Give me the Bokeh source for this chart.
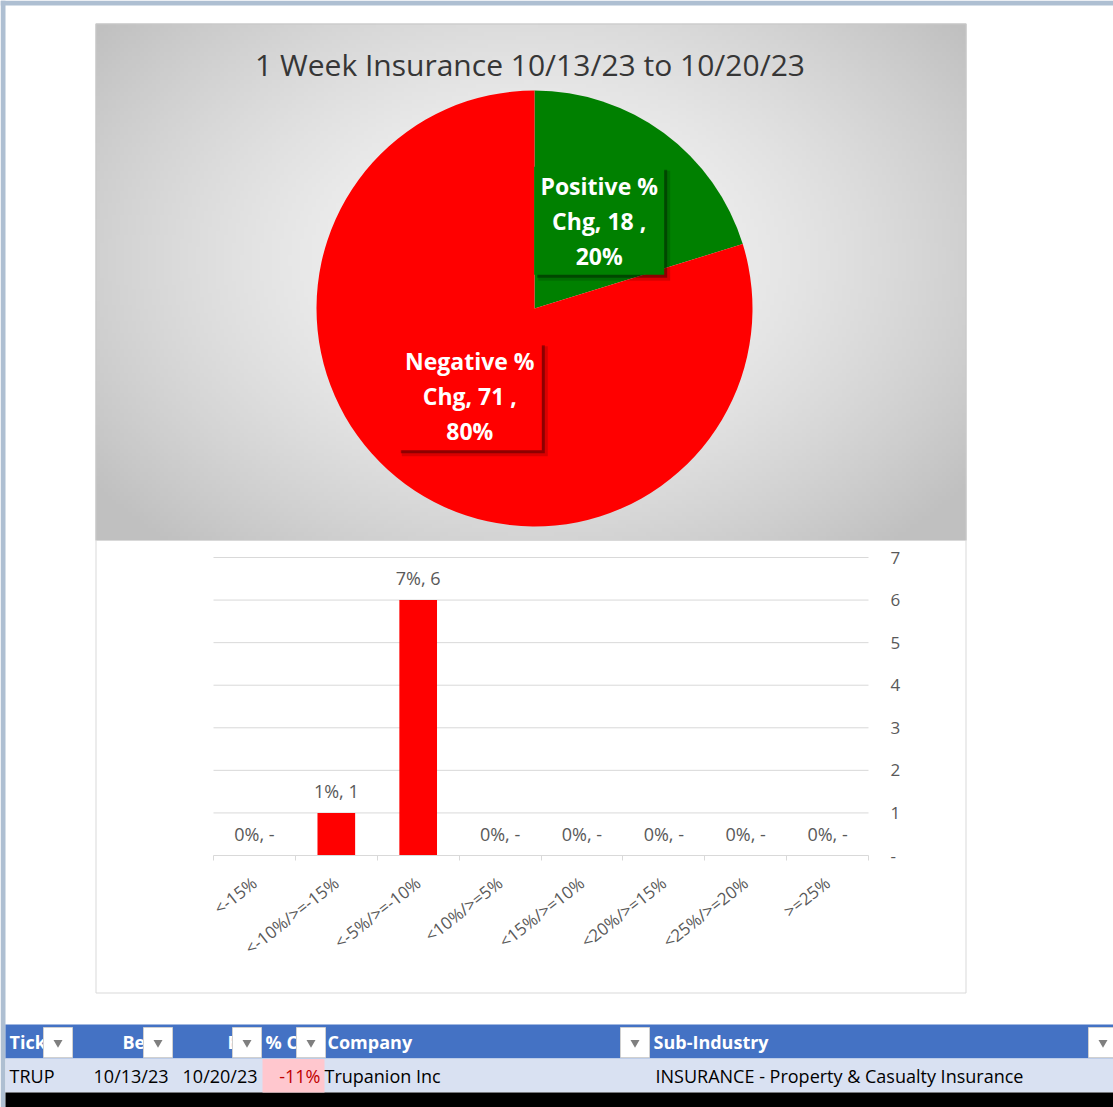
import math
import numpy as np
from bokeh.plotting import figure
from bokeh.models import Range1d, LinearAxis, FixedTicker, ColumnDataSource
from bokeh.embed import file_html
from bokeh.resources import INLINE
from bokeh.core.properties import value

# ---------------- data ----------------
title_text = "1 Week Insurance 10/13/23 to 10/20/23"
slice_names = ["Positive % Chg", "Negative % Chg"]
slice_counts = [18, 71]
slice_pcts = ["20%", "80%"]
slice_colors = ["#008000", "#FF0000"]

bar_categories = ["<-15%", "<-10%/>=-15%", "<-5%/>=-10%", "<10%/>=5%",
                  "<15%/>=10%", "<20%/>=15%", "<25%/>=20%", ">=25%"]
bar_counts = [0, 1, 6, 0, 0, 0, 0, 0]
bar_pcts = ["0%", "1%", "7%", "0%", "0%", "0%", "0%", "0%"]
y_ticks = [0, 1, 2, 3, 4, 5, 6, 7]

table_headers = ["Tick", "Be", "E", "% C", "Company", "Sub-Industry"]
table_row = ["TRUP", "10/13/23", "10/20/23", "-11%", "Trupanion Inc",
             "INSURANCE - Property & Casualty Insurance"]

# ---------------- page layout (pixels) ----------------
PW, PH = 1113, 1107
FONT = value("Open Sans")
GRAY_TXT = "#595959"

p = figure(width=PW, height=PH, title=None,
           x_range=Range1d(0, PW), y_range=Range1d(-PH, 0),
           min_border=0, min_border_left=0, min_border_right=0,
           min_border_top=0, min_border_bottom=0,
           x_axis_location=None, y_axis_location=None,
           toolbar_location=None, output_backend="svg")
p.grid.visible = False
p.outline_line_color = None
p.background_fill_color = "white"
p.border_fill_color = "white"

# window frame strips
p.quad(left=0, right=PW, top=0, bottom=-5, fill_color="#AEBFD2", line_color=None)
p.quad(left=0, right=5, top=0, bottom=-PH, fill_color="#AEBFD2", line_color=None)

# ================= PIE =================
ch_l, ch_r, ch_t, ch_b = 95, 966, 23, 540
ny, nx = 130, 218
gx = np.linspace(ch_l, ch_r, nx)
gy = np.linspace(ch_b, ch_t, ny)
X, Y = np.meshgrid(gx, gy)
d = np.sqrt(((X - 530) / 435.0) ** 2 + ((Y - 260) / 300.0) ** 2)
v = (247 - 55 * np.clip(d / 1.27, 0, 1) ** 1.5).astype(np.uint32)
img = (np.uint32(255) << 24) | (v << 16) | (v << 8) | v
p.image_rgba(image=[img.astype(np.uint32)], x=ch_l, y=-ch_b,
             dw=ch_r - ch_l, dh=ch_b - ch_t)
p.quad(left=ch_l + 0.5, right=ch_r - 0.5, top=-ch_t - 0.5, bottom=-ch_b,
       fill_color=None, line_color="#c8c8c8", line_width=1)

p.text(x=[(ch_l + ch_r) / 2 - 1], y=[-64], text=[title_text],
       text_align="center", text_baseline="middle", text_font=FONT,
       text_font_size="30px", text_color="#363636")

cx, cy, R = 534, -308, 218
total = sum(slice_counts)
cum = np.cumsum([0] + slice_counts)
starts = [math.pi / 2 - 2 * math.pi * cum[i] / total for i in range(len(slice_counts))]
ends = [math.pi / 2 - 2 * math.pi * cum[i + 1] / total for i in range(len(slice_counts))]
mids = [(s + e) / 2 for s, e in zip(starts, ends)]
pie_src = ColumnDataSource(dict(start=starts, end=ends, color=slice_colors))
p.wedge(x=cx, y=cy, radius=R, start_angle="start", end_angle="end",
        direction="clock", fill_color="color", line_color=None, source=pie_src)

lx = [cx + 0.5 * R * math.cos(m) for m in mids]
ly = [cy + 0.5 * R * math.sin(m) for m in mids]
labels = [n.replace(" Chg", "\nChg") + f", {c} ,\n{pc}"
          for n, c, pc in zip(slice_names, slice_counts, slice_pcts)]
box_w = [130, 144]
box_h = 108
p.rect(x=[x + 5 for x in lx], y=[y - 5 for y in ly], width=[w + 2 for w in box_w],
       height=box_h + 2, fill_color="black", fill_alpha=0.15, line_color=None)
p.rect(x=[x + 3 for x in lx], y=[y - 3 for y in ly], width=box_w, height=box_h,
       fill_color="black", fill_alpha=0.35, line_color=None)
p.rect(x=lx, y=ly, width=box_w, height=box_h, fill_color=slice_colors,
       line_color=None)
p.text(x=lx, y=ly, text=labels, text_align="center", text_baseline="middle",
       text_font=FONT, text_font_style="bold", text_font_size="23px",
       text_color="white", text_line_height=1.09)

# ================= BAR =================
box_l, box_r, box_t, box_b = 95, 966, 540, 993
pl_l, pl_r, y0_px, y7_px = 213, 868, 855, 557
ncat = len(bar_categories)
xppu = (pl_r - pl_l) / ncat
yppu = (y0_px - y7_px) / 7.0
p.extra_x_ranges = {"bx": Range1d(0.5 - pl_l / xppu, 0.5 + (PW - pl_l) / xppu)}
p.extra_y_ranges = {"by": Range1d(-(PH - y0_px) / yppu, y0_px / yppu)}

p.quad(left=box_l + 0.5, right=box_r - 0.5, top=-box_t, bottom=-box_b + 0.5,
       fill_color="white", line_color="#d9d9d9", line_width=1)

xs = list(range(1, ncat + 1))
p.segment(x0=0.5, x1=ncat + 0.5, y0=y_ticks[1:], y1=y_ticks[1:],
          line_color="#d9d9d9", line_width=1, x_range_name="bx", y_range_name="by")
p.vbar(x=xs, top=bar_counts, width=0.46, fill_color="#FF0000", line_color=None,
       x_range_name="bx", y_range_name="by")
bar_lbls = [f"{pc}, {c if c else '-'}" for pc, c in zip(bar_pcts, bar_counts)]
p.text(x=xs, y=bar_counts, text=bar_lbls, text_align="center",
       text_baseline="middle", y_offset=-22, text_font=FONT,
       text_font_size="18px", text_color=GRAY_TXT,
       x_range_name="bx", y_range_name="by")

xax = LinearAxis(x_range_name="bx", y_range_name="by",
                 fixed_location=0, bounds=(0.5, ncat + 0.5),
                 ticker=FixedTicker(ticks=xs, minor_ticks=[i + 0.5 for i in range(ncat + 1)]))
xax.major_label_overrides = {i + 1: c for i, c in enumerate(bar_categories)}
xax.axis_line_color = "#d9d9d9"
xax.major_tick_line_color = None
xax.major_tick_in = 0
xax.major_tick_out = 0
xax.minor_tick_line_color = "#d9d9d9"
xax.minor_tick_in = 0
xax.minor_tick_out = 5
xax.major_label_orientation = math.radians(38)
xax.major_label_standoff = 20
xax.major_label_text_font = "Open Sans"
xax.major_label_text_font_size = "17px"
xax.major_label_text_color = GRAY_TXT
p.add_layout(xax, "below")

yax = LinearAxis(x_range_name="bx", y_range_name="by",
                 fixed_location=ncat + 0.5, bounds=(0, 7),
                 ticker=FixedTicker(ticks=y_ticks, minor_ticks=[]))
yax.major_label_overrides = {0: "-"}
yax.axis_line_color = None
yax.major_tick_line_color = None
yax.major_tick_in = 0
yax.major_tick_out = 0
yax.minor_tick_line_color = None
yax.major_label_standoff = 22
yax.major_label_text_font = "Open Sans"
yax.major_label_text_font_size = "17px"
yax.major_label_text_color = GRAY_TXT
p.add_layout(yax, "right")

# ================= TABLE =================
h_top, h_bot, r_bot = 1024, 1058, 1092
p.quad(left=5, right=PW, top=-h_top, bottom=-h_bot, fill_color="#4472C4", line_color=None)
p.quad(left=5, right=PW, top=-h_bot, bottom=-r_bot, fill_color="#D9E1F2", line_color=None)
p.quad(left=5, right=PW, top=-r_bot, bottom=-PH, fill_color="black", line_color=None)
p.quad(left=262, right=324, top=-h_bot - 0.5, bottom=-r_bot, fill_color="#FFC7CE", line_color=None)

hx = [9, 122, 227, 265, 327, 653]
p.text(x=hx, y=-(h_top + h_bot) / 2, text=table_headers, text_align="left",
       text_baseline="middle", text_font=FONT, text_font_style="bold",
       text_font_size="18px", text_color="white")
btn_l = [43, 143, 232, 296, 620, 1088]
btn_w = 29
p.quad(left=btn_l, right=[b + btn_w for b in btn_l], top=-(h_top + 3), bottom=-(h_bot - 1),
       fill_color="white", line_color="#d0d0d0")
p.scatter(x=[b + btn_w / 2 for b in btn_l], y=-(h_top + h_bot) / 2 - 1,
          marker="inverted_triangle", size=9, fill_color="#7f7f7f", line_color=None)

rx = [9, 168, 257, 320, 324, 655]
ralign = ["left", "right", "right", "right", "left", "left"]
rcolor = ["black", "black", "black", "#C00000", "black", "black"]
p.text(x=rx, y=-(h_bot + r_bot) / 2, text=table_row, text_align=ralign,
       text_baseline="middle", text_font=FONT, text_font_size="18px",
       text_color=rcolor)

open("out.html", "w").write(file_html(p, INLINE))
